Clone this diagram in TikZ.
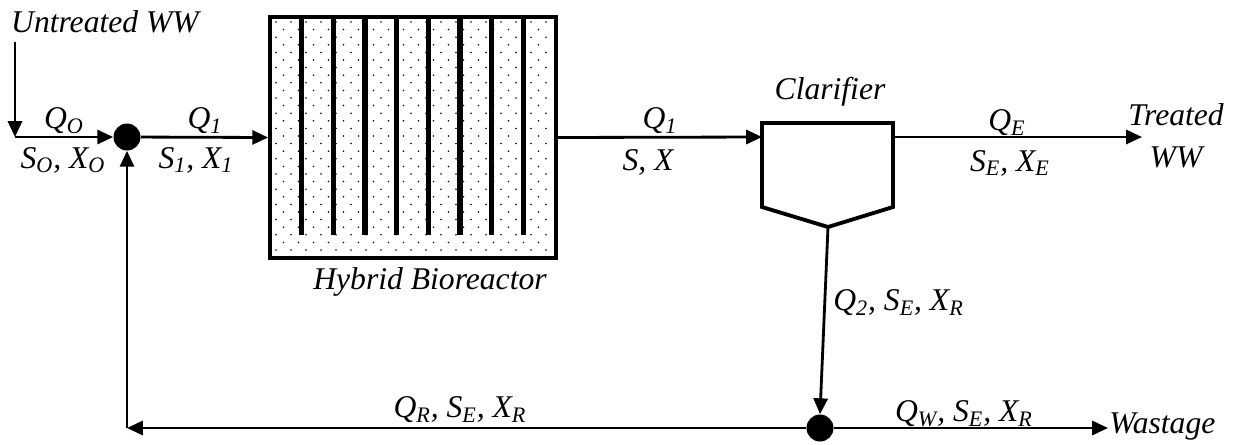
\documentclass[tikz,border=0pt]{standalone}
\usepackage{fontspec}
\setmainfont{Liberation Serif}
\usetikzlibrary{arrows.meta}
\begin{document}
\begin{tikzpicture}[x=0.02cm,y=-0.02cm,
  lbl/.style={inner sep=0pt,font=\itshape\fontsize{18}{24}\selectfont},
  arr/.style={line width=1.6pt,-{Triangle[length=9pt,width=8pt]}},
  junc/.style={circle,fill=black,minimum size=0.54cm,inner sep=0pt}]
\useasboundingbox (0,0) rectangle (1248,444);
% bioreactor dots
\foreach \r in {0,...,30}{
  \pgfmathsetmacro{\yy}{22+7.6*\r}
  \pgfmathsetmacro{\off}{mod(\r,2)*7.5}
  \foreach \c in {0,...,18}{
    \pgfmathsetmacro{\xx}{276+\off+15*\c}
    \ifdim\xx pt<552pt
      \fill (\xx,\yy) circle[radius=0.5pt];
    \fi
  }
}
\node[draw,line width=2.2pt,minimum width=5.72cm,minimum height=4.82cm,inner sep=0pt] (bio) at (413,137.5) {};
\foreach \x in {301.7,333.3,365,396.7,428.3,460,491.7,523.3}{
  \fill (\x-2.7,17) rectangle (\x+2.7,235);
}
% clarifier
\draw[line width=2.2pt,line join=miter] (762,123) -- (893,123) -- (893,207) -- (828,227) -- (762,207) -- cycle;
\coordinate (clarL) at (762,137);
\coordinate (clarR) at (893,137);
\coordinate (clarB) at (828,227);
% junctions
\node[junc] (j1) at (127,137) {};
\node[junc] (j2) at (820,428) {};
\coordinate (in0) at (15,42);
\coordinate (in1) at (15,137);
\coordinate (tout) at (1142,137);
\coordinate (wout) at (1108,428);
\coordinate (corner) at (127,428);
% connectors
\draw[arr] (in0) -- (in1);
\draw[arr] (in1) -- (j1.west);
\draw[arr] (j1) -- (bio.west);
\draw[arr] (bio.east) -- (clarL);
\draw[arr] (clarR) -- (tout);
\draw[arr] (clarB) -- (j2.north);
\draw[arr] (j2.east) -- (wout);
\draw[arr] (j2.west) -- (corner);
\draw[arr] (corner) -- (j1.south);
% labels
\node[lbl] (lunt) at (105,22) {Untreated WW};
\node[lbl] (lq0) at (64,121) {Q\textsubscript{O}};
\node[lbl] (ls0) at (63,160) {S\textsubscript{O}, X\textsubscript{O}};
\node[lbl] (lq1) at (205,121) {Q\textsubscript{1}};
\node[lbl] (ls1) at (196,160) {S\textsubscript{1}, X\textsubscript{1}};
\node[lbl] (lq1b) at (660,121) {Q\textsubscript{1}};
\node[lbl] (lsx) at (648,162) {S, X};
\node[lbl] (lclar) at (830,92) {Clarifier};
\node[lbl] (lqe) at (1007,123) {Q\textsubscript{E}};
\node[lbl] (lse) at (1010,163) {S\textsubscript{E}, X\textsubscript{E}};
\node[lbl,align=center] (ltreat) at (1176,136) {Treated\\WW};
\node[lbl] (lbio) at (430,282) {Hybrid Bioreactor};
\node[lbl,anchor=west] (lq2) at (833,303) {Q\textsubscript{2}, S\textsubscript{E}, X\textsubscript{R}};
\node[lbl] (lqr) at (460,410) {Q\textsubscript{R}, S\textsubscript{E}, X\textsubscript{R}};
\node[lbl] (lqw) at (964,414) {Q\textsubscript{W}, S\textsubscript{E}, X\textsubscript{R}};
\node[lbl,anchor=west] (lwaste) at (1109,427) {Wastage};
\end{tikzpicture}
\end{document}
